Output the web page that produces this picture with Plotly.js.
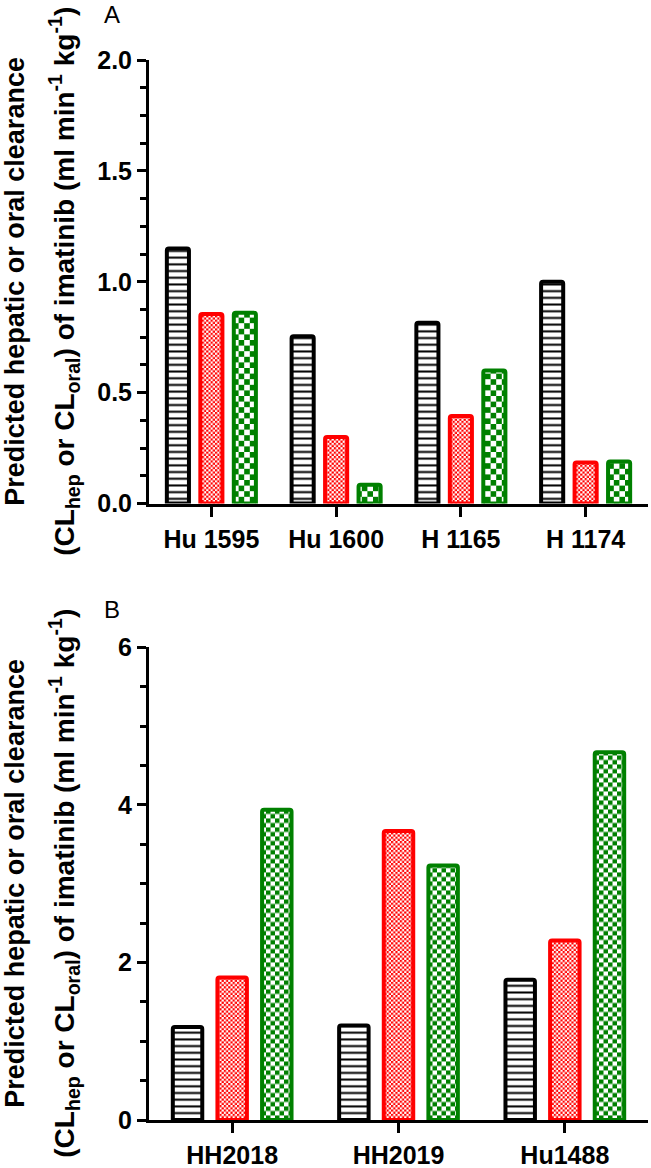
<!DOCTYPE html>
<html>
<head>
<meta charset="utf-8">
<script src="https://cdn.plot.ly/plotly-3.0.1.min.js"></script>
<style>
  html, body { margin: 0; padding: 0; background: #fff; }
  #chart { width: 651px; height: 1168px; }
</style>
</head>
<body>
<div id="chart"></div>
<script>
// ---------- data ----------
const catsA = ['Hu 1595', 'Hu 1600', 'H 1165', 'H 1174'];
const blackA = [1.15, 0.755, 0.815, 1.00];
const redA   = [0.855, 0.30, 0.395, 0.185];
const greenA = [0.86, 0.085, 0.60, 0.19];

const catsB = ['HH2018', 'HH2019', 'Hu1488'];
const blackB = [1.18, 1.20, 1.78];
const redB   = [1.81, 3.67, 2.28];
const greenB = [3.94, 3.23, 4.67];

const yTicksA = [0, 0.5, 1.0, 1.5, 2.0];
const yTicksB = [0, 2, 4, 6];

const titleLine1 = 'Predicted hepatic or oral clearance';
const titleLine2 = '(CL<sub>hep</sub> or CL<sub>oral</sub>) of imatinib (ml min<sup>-1</sup> kg<sup>-1</sup>)';

// ---------- styling ----------
const FONT = 'Liberation Sans, Arial, Helvetica, sans-serif';
const BLACK = '#000000', RED = '#ff0000', GREEN = '#008000';

function barTrace(x, y, color, uid, shape, xa, ya) {
  return {
    type: 'bar', x: x, y: y, uid: uid, xaxis: xa, yaxis: ya,
    showlegend: false, hoverinfo: 'skip',
    marker: {
      color: '#ffffff',
      cornerradius: 2,
      line: { color: color, width: 4 },
      pattern: { shape: shape, size: 6.7, solidity: 0.3, fgcolor: color, bgcolor: '#ffffff', fillmode: 'replace' }
    }
  };
}

const data = [
  barTrace(catsA, blackA, BLACK, 'pA_black', '-', 'x', 'y'),
  barTrace(catsA, redA, RED, 'pA_red', '+', 'x', 'y'),
  barTrace(catsA, greenA, GREEN, 'pA_green', '+', 'x', 'y'),
  barTrace(catsB, blackB, BLACK, 'pB_black', '-', 'x2', 'y2'),
  barTrace(catsB, redB, RED, 'pB_red', '+', 'x2', 'y2'),
  barTrace(catsB, greenB, GREEN, 'pB_green', '+', 'x2', 'y2')
];

const tickFont = { family: FONT, size: 25, color: BLACK, weight: 'bold' };

function xAxis(anchor, n) {
  return {
    anchor: anchor, domain: [0, 1], type: 'category', range: [-0.5, n - 0.5],
    showline: true, linecolor: BLACK, linewidth: 3, mirror: false,
    ticks: 'outside', ticklen: 10, tickwidth: 3, tickcolor: BLACK,
    ticklabelstandoff: 1,
    showgrid: false, zeroline: false, tickfont: tickFont, fixedrange: true
  };
}
function yAxis(anchor, domain, range, ticks, minorStep, fmt) {
  return {
    anchor: anchor, domain: domain, range: range,
    tickmode: 'array', tickvals: ticks, tickformat: fmt,
    showline: true, linecolor: BLACK, linewidth: 3,
    ticks: 'outside', ticklen: 9, tickwidth: 3, tickcolor: BLACK,
    minor: { dtick: minorStep, ticks: 'outside', ticklen: 6, tickwidth: 3, tickcolor: BLACK, showgrid: false },
    showgrid: false, zeroline: false, tickfont: tickFont, fixedrange: true
  };
}

function titleAnn(text, x, y, size) {
  return { text: text, xref: 'paper', yref: 'paper', x: x, y: y, xanchor: 'center', yanchor: 'middle',
           textangle: -90, showarrow: false, font: { family: FONT, size: size, color: BLACK, weight: 'bold' } };
}
function panelAnn(text, x, y) {
  return { text: text, xref: 'paper', yref: 'paper', x: x, y: y, xanchor: 'center', yanchor: 'middle',
           showarrow: false, font: { family: FONT, size: 24, color: BLACK } };
}

const layout = {
  width: 651, height: 1168,
  margin: { l: 149, r: 3, t: 60, b: 48, pad: 0 },
  paper_bgcolor: '#ffffff', plot_bgcolor: '#ffffff',
  barmode: 'group', bargap: 0.195, bargroupgap: 0.34,
  xaxis: xAxis('y', catsA.length),
  yaxis: yAxis('x', [0.5815, 1], [0, 2], yTicksA, 0.125, '.1f'),
  xaxis2: xAxis('y2', catsB.length),
  yaxis2: yAxis('x2', [0, 0.4458], [0, 6], yTicksB, 0.5, 'd'),
  annotations: [
    titleAnn(titleLine1, -0.2685, 0.7908, 27),
    titleAnn(titleLine2, -0.1703, 0.7908, 28),
    titleAnn(titleLine1, -0.2685, 0.2229, 27),
    titleAnn(titleLine2, -0.1703, 0.2229, 28),
    panelAnn('A', -0.0741, 1.0425),
    panelAnn('B', -0.0741, 0.4817)
  ]
};

// checkerboard textures for the red and green bars
const checkerCells = { pA_red: 2.2, pA_green: 5.6, pB_red: 2.2, pB_green: 4.5 };
const checkerColors = { pA_red: RED, pA_green: GREEN, pB_red: RED, pB_green: GREEN };

function applyCheckers() {
  const NS = 'http://www.w3.org/2000/svg';
  document.querySelectorAll('pattern').forEach(function (p) {
    Object.keys(checkerCells).forEach(function (uid) {
      if (p.id && p.id.endsWith('-' + uid)) {
        const c = checkerCells[uid], col = checkerColors[uid];
        while (p.firstChild) p.removeChild(p.firstChild);
        p.setAttribute('width', 2 * c);
        p.setAttribute('height', 2 * c);
        p.setAttribute('patternUnits', 'userSpaceOnUse');
        const bg = document.createElementNS(NS, 'rect');
        bg.setAttribute('x', 0); bg.setAttribute('y', 0);
        bg.setAttribute('width', 2 * c); bg.setAttribute('height', 2 * c);
        bg.setAttribute('fill', '#ffffff');
        p.appendChild(bg);
        [[0, 0], [c, c]].forEach(function (o) {
          const r = document.createElementNS(NS, 'rect');
          r.setAttribute('x', o[0]); r.setAttribute('y', o[1]);
          r.setAttribute('width', c); r.setAttribute('height', c);
          r.setAttribute('fill', col);
          p.appendChild(r);
        });
      }
    });
  });
}

Plotly.newPlot('chart', data, layout, { staticPlot: true, displayModeBar: false }).then(applyCheckers);
</script>
</body>
</html>
